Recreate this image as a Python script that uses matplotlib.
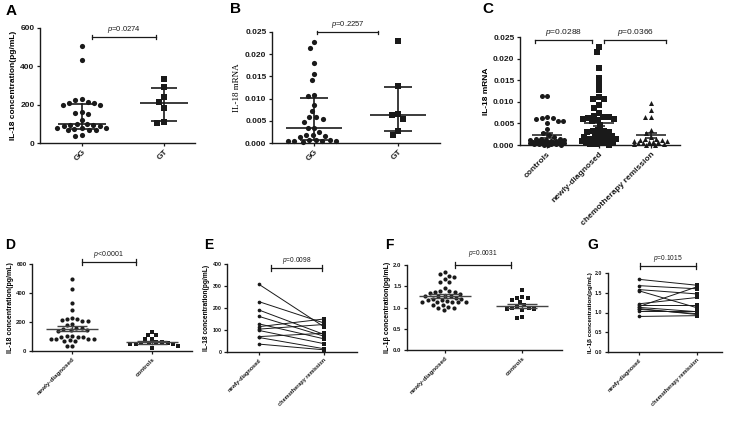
import numpy as np
import matplotlib
matplotlib.use("Agg")
import matplotlib.pyplot as plt

plt.rcParams['font.family'] = ['Liberation Sans', 'DejaVu Sans']
plt.rcParams['mathtext.fontset'] = 'custom'
plt.rcParams['mathtext.it'] = 'Liberation Sans:italic'
plt.rcParams['mathtext.rm'] = 'Liberation Sans'

# ---------------- data ----------------
A_cats = ["GG", "GT"]
A_GG = [504, 434, 227, 222, 213, 210, 207, 200, 196, 160, 155, 150, 122, 100, 98, 96,
        92, 90, 88, 80, 78, 76, 72, 70, 68, 66, 40, 36]
A_GT = [334, 290, 238, 212, 185, 110, 105]
A_median = [97, 208]
A_q1 = [75, 117]
A_q3 = [201, 288]
A_p = "=0.0274"

B_cats = ["GG", "GT"]
B_GG = [0.0227, 0.0215, 0.0180, 0.0155, 0.0141, 0.0109, 0.0106, 0.0085, 0.0071, 0.0059,
        0.0058, 0.0055, 0.0048, 0.0034, 0.0033, 0.0024, 0.0019, 0.0019, 0.0016, 0.0013,
        0.0006, 0.0006, 0.0006, 0.0005, 0.0005, 0.0005, 0.0005, 0.0002]
B_GT = [0.0229, 0.0128, 0.0065, 0.0063, 0.0054, 0.0028, 0.0019]
B_median = [0.0033, 0.0064]
B_q1 = [0.0006, 0.00275]
B_q3 = [0.0101, 0.0127]
B_p = "=0.2257"

C_cats = ["controls", "newly-diagnosed", "chemotherapy remission"]
C_controls = [0.0114, 0.0114, 0.0065, 0.0063, 0.0062, 0.0060, 0.0056, 0.0055, 0.0052, 0.0036,
              0.0027, 0.0022, 0.0018, 0.0015, 0.0014, 0.0013, 0.0012, 0.0012, 0.0011, 0.0010,
              0.0010, 0.0009, 0.0009, 0.0008, 0.0008, 0.0007, 0.0007, 0.0006, 0.0006, 0.0005,
              0.0005, 0.0004, 0.0004, 0.0003, 0.0003, 0.0002, 0.0002, 0.0001, 0.0001, 0.0001]
C_newly = [0.0227, 0.0215, 0.0179, 0.0155, 0.0142, 0.0128, 0.0110, 0.0106, 0.0106, 0.0093,
           0.0086, 0.0073, 0.0066, 0.0065, 0.0064, 0.0063, 0.0061, 0.0060, 0.0058, 0.0056,
           0.0046, 0.0034, 0.0033, 0.0032, 0.0031, 0.0030, 0.0022, 0.0021, 0.0020, 0.0020,
           0.0019, 0.0015, 0.0013, 0.0012, 0.0011, 0.0010, 0.0009, 0.0008, 0.0007, 0.0006,
           0.0005, 0.0004, 0.0003, 0.0002, 0.0001]
C_chemo = [0.0098, 0.0081, 0.0064, 0.0064, 0.0035, 0.0027, 0.0018, 0.0015, 0.0013, 0.0012,
           0.0011, 0.0010, 0.0009, 0.0008, 0.0007, 0.0006, 0.0005, 0.0004, 0.0003, 0.0002,
           0.0001, 0.0001]
C_mean = [0.0022, 0.0052, 0.0022]
C_sem = [0.0006, 0.0009, 0.0006]
C_p = ["=0.0288", "=0.0366"]

D_cats = ["newly-diagnosed", "controls"]
D_newly = [498, 429, 330, 284, 231, 224, 219, 212, 208, 205, 185, 178, 162, 158, 152, 148,
           145, 140, 106, 101, 100, 98, 95, 85, 82, 80, 80, 78, 72, 70, 37, 37]
D_controls = [134, 111, 111, 83, 81, 62, 60, 58, 55, 52, 50, 48, 45, 35, 18]
D_mean = [155, 60]
D_sem = [15, 9]
D_p = "<0.0001"

E_cats = ["newly-diagnosed", "chemotherapy remission"]
E_before = [308, 229, 191, 162, 128, 115, 104, 98, 70, 66, 36]
E_after = [115, 132, 80, 72, 60, 150, 125, 38, 85, 15, 10]
E_p = "=0.0098"

F_cats = ["newly-diagnosed", "controls"]
F_newly = [1.84, 1.78, 1.75, 1.72, 1.67, 1.61, 1.59, 1.45, 1.38, 1.38, 1.37, 1.36, 1.33, 1.32,
           1.28, 1.27, 1.27, 1.26, 1.22, 1.21, 1.20, 1.18, 1.17, 1.15, 1.14, 1.14, 1.13, 1.13,
           1.12, 1.06, 1.05, 1.02, 1.00, 1.00, 0.93]
F_controls = [1.41, 1.24, 1.23, 1.22, 1.18, 1.13, 1.06, 1.02, 1.00, 0.98, 0.96, 0.96, 0.95,
              0.77, 0.75]
F_mean = [1.27, 1.04]
F_sem = [0.04, 0.05]
F_p = "=0.0031"

G_cats = ["newly-diagnosed", "chemotherapy remission"]
G_before = [1.84, 1.68, 1.58, 1.55, 1.22, 1.20, 1.15, 1.13, 1.10, 1.08, 1.05, 0.90]
G_after = [1.69, 1.60, 1.47, 1.12, 1.38, 1.20, 1.65, 1.02, 0.95, 0.97, 1.05, 0.92]
G_p = "=0.1015"

# ---------------- helpers ----------------
W, H = 730, 423
fig = plt.figure(figsize=(W / 100, H / 100), dpi=100)
INK = '#1a1a1a'


def px_axes(left, right, top, bottom, xlim, ylim, yticks, ticksize, yfmt=None):
    ax = fig.add_axes([left / W, 1 - bottom / H, (right - left) / W, (bottom - top) / H])
    ax.set_xlim(*xlim)
    ax.set_ylim(*ylim)
    for s in ['top', 'right']:
        ax.spines[s].set_visible(False)
    for s in ['left', 'bottom']:
        ax.spines[s].set_linewidth(1.0)
        ax.spines[s].set_color(INK)
    ax.set_yticks(yticks)
    if yfmt:
        ax.set_yticklabels([yfmt.format(t) for t in yticks])
    ax.tick_params(axis='y', length=2.5, width=0.9, pad=1.5, labelsize=ticksize, colors=INK)
    ax.tick_params(axis='x', length=2.5, width=0.9, pad=1.5, colors=INK)
    for lab in ax.get_yticklabels():
        lab.set_fontweight('bold')
    ax.patch.set_alpha(0)
    return ax


def set_xcats(ax, cats, size):
    ax.set_xticks(range(len(cats)))
    ax.set_xticklabels(cats, rotation=45, ha='right', va='top', rotation_mode='anchor',
                       fontsize=size, fontweight='bold', color=INK)


def px_scale(ax):
    p0 = ax.transData.transform((0, 0))
    p1 = ax.transData.transform((1, 1))
    return p1[0] - p0[0], p1[1] - p0[1]


def swarm(ax, xc, vals, dist_px, cap_px):
    """Beeswarm layout: offsets (pixels) chosen nearest the centre without collisions,
    limited to +/- cap_px; if no free slot, the least-crowded slot is used."""
    vals = np.asarray(vals, dtype=float)
    sx, sy = px_scale(ax)
    ypx = (vals - ax.get_ylim()[0]) * sy
    order = np.argsort(-ypx)
    cand = np.arange(-cap_px, cap_px + 0.01, 0.5)
    cand = cand[np.argsort(np.abs(cand), kind='stable')]
    px, py = [], []
    xs = np.zeros_like(vals)
    for k in order:
        y = ypx[k]
        if px:
            PX = np.array(px)
            PY = np.array(py)
            near = np.abs(PY - y) < dist_px
            if near.any():
                d = np.sqrt((cand[:, None] - PX[near][None, :]) ** 2 + (y - PY[near][None, :]) ** 2)
                mind = d.min(axis=1)
                ok = np.where(mind >= dist_px)[0]
                off = cand[ok[0]] if len(ok) else cand[np.argmax(mind)]
            else:
                off = 0.0
        else:
            off = 0.0
        px.append(off)
        py.append(y)
        xs[k] = xc + off / sx
    return xs


def hline_px(ax, xc, y, half_px, lw, color=INK):
    sx, _ = px_scale(ax)
    ax.plot([xc - half_px / sx, xc + half_px / sx], [y, y], color=color, lw=lw,
            solid_capstyle='butt', zorder=4, clip_on=False)


def bracket(ax, x1, x2, y, text, tick_px, fs, text_px=4, up=True):
    _, sy = px_scale(ax)
    h = tick_px / sy
    ax.plot([x1, x2], [y, y], color=INK, lw=0.9, clip_on=False)
    for x in (x1, x2):
        ax.plot([x, x], [y - h, y + (h if up else 0)], color=INK, lw=0.9, clip_on=False)
    ax.text((x1 + x2) / 2, y + text_px / sy, "$p$" + text, ha='center', va='bottom',
            fontsize=fs, color=INK, clip_on=False)


def panel_label(x, y, s, size):
    fig.text(x / W, 1 - y / H, s, fontsize=size, fontweight='bold', ha='left', va='center')


# ---------------- Panel A ----------------
ax = px_axes(40, 195, 28, 143, (-0.51, 1.38), (0, 600), [0, 200, 400, 600], 6)
set_xcats(ax, A_cats, 6)
ax.set_ylabel("IL-18 concentration(pg/mL)", fontsize=6, fontweight='bold', labelpad=2)
for i, (vals, mk) in enumerate([(A_GG, 'o'), (A_GT, 's')]):
    xs = swarm(ax, i, vals, 6.5, 25)
    ax.scatter(xs, vals, marker=mk, s=14, color=INK, linewidths=0, zorder=3, clip_on=False)
    hline_px(ax, i, A_median[i], 24, 1.2)
    hline_px(ax, i, A_q1[i], 13, 1.2)
    hline_px(ax, i, A_q3[i], 13, 1.2)
    ax.plot([i, i], [A_q1[i], A_q3[i]], color=INK, lw=1.2, zorder=4)
bracket(ax, 0.12, 0.9, 553, A_p, 1.8, 5.5, 2)
panel_label(6, 11, "A", 11)

# ---------------- Panel B ----------------
ax = px_axes(272, 440, 32, 143, (-0.5, 1.5), (0, 0.025),
             [0, 0.005, 0.010, 0.015, 0.020, 0.025], 6, "{:.3f}")
set_xcats(ax, B_cats, 6)
ax.set_ylabel("IL-18 mRNA", fontsize=6.5, family='Liberation Serif', labelpad=3)
for i, (vals, mk) in enumerate([(B_GG, 'o'), (B_GT, 's')]):
    xs = swarm(ax, i, vals, 6.5, 26)
    ax.scatter(xs, vals, marker=mk, s=14, color=INK, linewidths=0, zorder=3, clip_on=False)
    hline_px(ax, i, B_median[i], 28, 1.2)
    hline_px(ax, i, B_q1[i], 14, 1.2)
    hline_px(ax, i, B_q3[i], 14, 1.2)
    ax.plot([i, i], [B_q1[i], B_q3[i]], color=INK, lw=1.2, zorder=4)
bracket(ax, 0.04, 0.76, 0.0249, B_p, 1.8, 5.5, 2)
panel_label(230, 9, "B", 11)

# ---------------- Panel C ----------------
ax = px_axes(520, 680, 37, 145, (-0.52, 2.56), (0, 0.025),
             [0, 0.005, 0.010, 0.015, 0.020, 0.025], 6, "{:.3f}")
set_xcats(ax, C_cats, 6)
ax.set_ylabel("IL-18 mRNA", fontsize=6, fontweight='bold', labelpad=2)
for i, (vals, mk, ms) in enumerate([(C_controls, 'o', 13), (C_newly, 's', 13), (C_chemo, '^', 13)]):
    xs = swarm(ax, i, vals, 5.5, 17)
    ax.scatter(xs, vals, marker=mk, s=ms, color=INK, linewidths=0, zorder=3, clip_on=False)
    hline_px(ax, i, C_mean[i], 15, 1.1)
    hline_px(ax, i, C_mean[i] - C_sem[i], 6, 1.1)
    hline_px(ax, i, C_mean[i] + C_sem[i], 6, 1.1)
    ax.plot([i, i], [C_mean[i] - C_sem[i], C_mean[i] + C_sem[i]], color=INK, lw=1.1, zorder=4)
bracket(ax, -0.23, 0.87, 0.0243, C_p[0], 2.8, 6, 2.5, up=False)
bracket(ax, 1.10, 2.29, 0.0243, C_p[1], 2.8, 6, 2.5, up=False)
panel_label(482, 9, "C", 11)

# ---------------- Panel D ----------------
ax = px_axes(32, 192, 264, 351, (-0.5, 1.5), (0, 600), [0, 200, 400, 600], 4.3)
set_xcats(ax, D_cats, 4.5)
ax.set_ylabel("IL-18 concentration(pg/mL)", fontsize=5, fontweight='bold', labelpad=1.5)
for i, (vals, mk) in enumerate([(D_newly, 'o'), (D_controls, 's')]):
    xs = swarm(ax, i, vals, 5.2, 26)
    ax.scatter(xs, vals, marker=mk, s=9, color=INK, linewidths=0, zorder=3, clip_on=False)
    hline_px(ax, i, D_mean[i], 26, 1.0, '#444444')
    hline_px(ax, i, D_mean[i] - D_sem[i], 15, 1.0, '#444444')
    hline_px(ax, i, D_mean[i] + D_sem[i], 15, 1.0, '#444444')
    ax.plot([i, i], [D_mean[i] - D_sem[i], D_mean[i] + D_sem[i]], color='#444444', lw=1.0, zorder=4)
bracket(ax, 0.125, 0.8, 612, D_p, 2.8, 5, 2)
panel_label(5, 245, "D", 10)

# ---------------- Panel E ----------------
ax = px_axes(227, 357, 264, 352, (-0.49, 1.51), (0, 400), [0, 100, 200, 300, 400], 3.8)
set_xcats(ax, E_cats, 4)
ax.set_ylabel("IL-18 concentration(pg/mL)", fontsize=4.8, fontweight='bold', labelpad=1.5)
for b, a in zip(E_before, E_after):
    ax.plot([0, 1], [b, a], color=INK, lw=0.7, zorder=2)
ax.scatter([0] * len(E_before), E_before, marker='o', s=7, color=INK, linewidths=0, zorder=3)
ax.scatter([1] * len(E_after), E_after, marker='s', s=7, color=INK, linewidths=0, zorder=3)
bracket(ax, 0.19, 0.97, 382, E_p, 2.8, 4.8, 2)
panel_label(204, 245, "E", 10)

# ---------------- Panel F ----------------
ax = px_axes(407, 562, 265, 350, (-0.49, 1.51), (0, 2.0), [0, 0.5, 1.0, 1.5, 2.0], 4.3, "{:.1f}")
set_xcats(ax, F_cats, 4.5)
ax.set_ylabel("IL-1\u03b2 concentration(pg/mL)", fontsize=5, fontweight='bold', labelpad=1.5)
for i, (vals, mk) in enumerate([(F_newly, 'o'), (F_controls, 's')]):
    xs = swarm(ax, i, vals, 5.2, 26)
    ax.scatter(xs, vals, marker=mk, s=9, color=INK, linewidths=0, zorder=3, clip_on=False)
    hline_px(ax, i, F_mean[i], 26, 1.0, '#444444')
    hline_px(ax, i, F_mean[i] - F_sem[i], 15, 1.0, '#444444')
    hline_px(ax, i, F_mean[i] + F_sem[i], 15, 1.0, '#444444')
    ax.plot([i, i], [F_mean[i] - F_sem[i], F_mean[i] + F_sem[i]], color='#444444', lw=1.0, zorder=4)
bracket(ax, 0.13, 0.85, 2.0, F_p, 2.8, 4.8, 6)
panel_label(385, 245, "F", 10)

# ---------------- Panel G ----------------
ax = px_axes(608, 722, 273, 352, (-0.53, 1.43), (0, 2.0), [0, 0.5, 1.0, 1.5, 2.0], 3.8, "{:.1f}")
set_xcats(ax, G_cats, 4)
ax.set_ylabel("IL-1\u03b2 concentration(pg/mL)", fontsize=4.5, fontweight='bold', labelpad=1.5)
for b, a in zip(G_before, G_after):
    ax.plot([0, 1], [b, a], color=INK, lw=0.7, zorder=2)
ax.scatter([0] * len(G_before), G_before, marker='o', s=7, color=INK, linewidths=0, zorder=3)
ax.scatter([1] * len(G_after), G_after, marker='s', s=7, color=INK, linewidths=0, zorder=3)
bracket(ax, 0.02, 0.98, 2.18, G_p, 2.8, 4.8, 2)
panel_label(587, 245, "G", 10)

fig.savefig("out.png", dpi=100)
